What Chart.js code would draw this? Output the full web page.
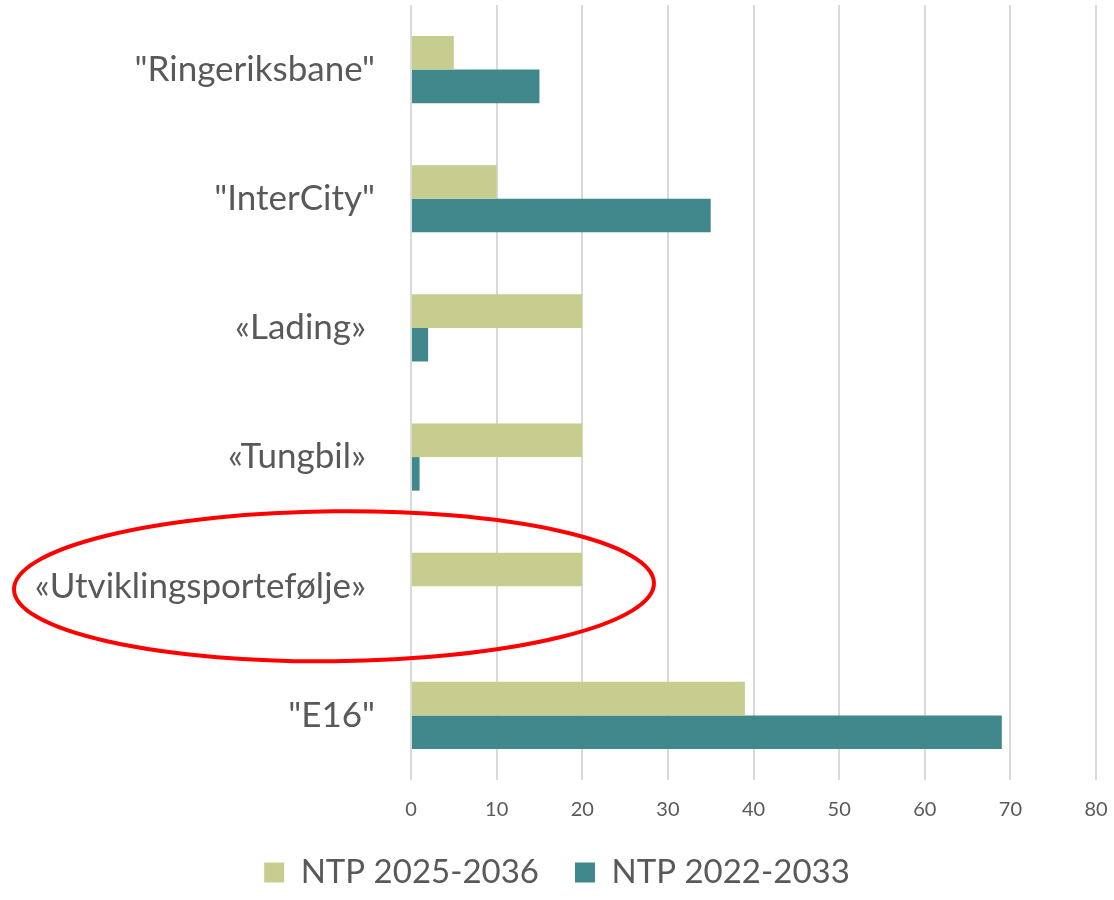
<!DOCTYPE html>
<html>
<head>
<meta charset="utf-8">
<script src="https://cdn.jsdelivr.net/npm/chart.js@4/dist/chart.umd.min.js"></script>
<style>
  html, body { margin: 0; padding: 0; background: #fff; }
  #wrap { width: 1114px; height: 900px; }
</style>
</head>
<body>
<div id="wrap"><canvas id="chart" width="1114" height="900"></canvas></div>
<script>
// kategorier og verdier
const categories = ['"Ringeriksbane"', '"InterCity"', '«Lading» ', '«Tungbil» ', '«Utviklingsportefølje» ', '"E16"'];
const ntp2025 = [5, 10, 20, 20, 20, 39];
const ntp2022 = [15, 35, 2, 1, 0, 69];
const xTicks = [0, 10, 20, 30, 40, 50, 60, 70, 80];
const highlightIndex = 4;

const textColor = '#595959';
const fontFamily = "Lato, 'Open Sans', 'Noto Sans', sans-serif";

// rød ellipse rundt «Utviklingsportefølje»
const ellipsePlugin = {
    id: 'ellipse',
    afterDraw(chart) {
        const ctx = chart.ctx;
        const y = chart.scales.y.getPixelForValue(highlightIndex);
        ctx.save();
        ctx.strokeStyle = '#ff0000';
        ctx.lineWidth = 4;
        ctx.beginPath();
        ctx.ellipse(334, y, 320, 75, -0.01, 0, Math.PI * 2);
        ctx.stroke();
        ctx.restore();
    }
};

const ctx = document.getElementById('chart').getContext('2d');
new Chart(ctx, {
    type: 'bar',
    data: {
        labels: categories,
        datasets: [{
            label: 'NTP 2025-2036',
            data: ntp2025,
            backgroundColor: '#c6cd8f'
        }, {
            label: 'NTP 2022-2033',
            data: ntp2022,
            backgroundColor: '#40888b'
        }]
    },
    options: {
        indexAxis: 'y',
        responsive: false,
        animation: false,
        layout: { padding: { top: 5, right: 0, left: 0, bottom: 1 } },
        datasets: { bar: { categoryPercentage: 0.52, barPercentage: 1.0 } },
        scales: {
            x: {
                min: 0,
                max: 80,
                afterBuildTicks(scale) { scale.ticks = xTicks.map(v => ({ value: v })); },
                afterFit(scale) {
                    scale.height = 40;
                    scale.paddingLeft = 0;
                    scale.paddingRight = 18;
                },
                grid: { color: '#d9d9d9', lineWidth: 2, drawTicks: false },
                border: { display: false },
                ticks: { color: textColor, font: { family: fontFamily, size: 20, lineHeight: 1 }, padding: 20 }
            },
            y: {
                grid: { display: false },
                border: { display: false },
                afterFit(scale) {
                    scale.width = 411;
                    scale.paddingTop = 0;
                    scale.paddingBottom = 0;
                },
                ticks: { color: textColor, font: { family: fontFamily, size: 35 }, padding: 28 }
            }
        },
        plugins: {
            legend: {
                position: 'bottom',
                labels: {
                    color: textColor,
                    font: { family: fontFamily, size: 33 },
                    boxWidth: 20,
                    boxHeight: 20,
                    padding: 36
                }
            },
            tooltip: { enabled: false }
        }
    },
    plugins: [ellipsePlugin]
});
</script>
</body>
</html>
